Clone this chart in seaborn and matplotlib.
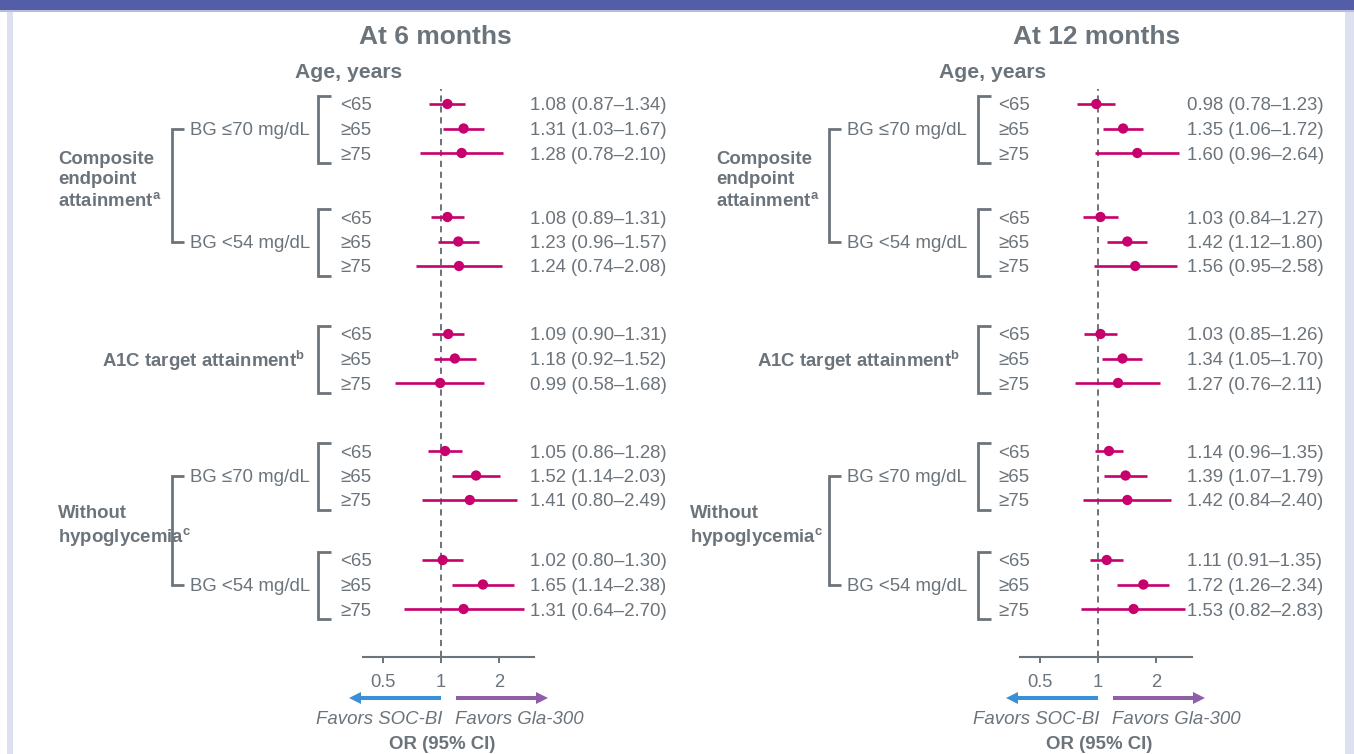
import numpy as np
import pandas as pd
import seaborn as sns
import matplotlib.pyplot as plt
from matplotlib.patches import Rectangle

# data
age_labels = ["<65", "≥65", "≥75"]
subgroups = ["Composite BG ≤70", "Composite BG <54", "A1C target",
             "Without hypo BG ≤70", "Without hypo BG <54"]

or_6 = [1.08, 1.31, 1.28, 1.08, 1.23, 1.24, 1.09, 1.18, 0.99,
        1.05, 1.52, 1.41, 1.02, 1.65, 1.31]
lo_6 = [0.87, 1.03, 0.78, 0.89, 0.96, 0.74, 0.90, 0.92, 0.58,
        0.86, 1.14, 0.80, 0.80, 1.14, 0.64]
hi_6 = [1.34, 1.67, 2.10, 1.31, 1.57, 2.08, 1.31, 1.52, 1.68,
        1.28, 2.03, 2.49, 1.30, 2.38, 2.70]

or_12 = [0.98, 1.35, 1.60, 1.03, 1.42, 1.56, 1.03, 1.34, 1.27,
         1.14, 1.39, 1.42, 1.11, 1.72, 1.53]
lo_12 = [0.78, 1.06, 0.96, 0.84, 1.12, 0.95, 0.85, 1.05, 0.76,
         0.96, 1.07, 0.84, 0.91, 1.26, 0.82]
hi_12 = [1.23, 1.72, 2.64, 1.27, 1.80, 2.58, 1.26, 1.70, 2.11,
         1.35, 1.79, 2.40, 1.35, 2.34, 2.83]

panel_titles = ["At 6 months", "At 12 months"]
x_ticks = [0.5, 1, 2]
tick_labels = ["0.5", "1", "2"]

# colours
GREY = "#6b737b"
MAG = "#c8006e"
BLUE = "#3a90d6"
PURPLE = "#8e5fa8"

sns.set_theme(style="white")
plt.rcParams["font.family"] = ["Liberation Sans", "DejaVu Sans"]
plt.rcParams["mathtext.fontset"] = "custom"
plt.rcParams["mathtext.rm"] = "Liberation Sans"
plt.rcParams["mathtext.bf"] = "Liberation Sans:bold"

W, H = 1354, 754
fig = plt.figure(figsize=(W / 100, H / 100), dpi=100)

# overlay in pixel units for labels / brackets / arrows
ov = fig.add_axes([0, 0, 1, 1])
ov.set_xlim(0, W)
ov.set_ylim(H, 0)
ov.axis("off")
ov.patch.set_alpha(0)

# frame
ov.add_patch(Rectangle((0, 0), W, 10, color="#545ea6", lw=0))
ov.add_patch(Rectangle((0, 10), W, 2, color="#b9bddc", lw=0))
ov.add_patch(Rectangle((7, 12), 6, H, color="#dde0ef", lw=0))
ov.add_patch(Rectangle((1345, 12), 9, H, color="#dde0ef", lw=0))

# layout (pixels)
group_start = [104, 217, 334, 451, 560]
row_step = 24.5
rows_y = [g + row_step * i for g in group_start for i in range(3)]
k = 58.0  # pixels per doubling
spine_y, top_y = 657, 89
FS = 13.4
dy = 2  # text nudge so glyphs sit on the row centre

panels = [
    dict(x1=441, ax_l=363, ax_r=534, title_x=435, age_x=349, lab_x=340,
         val_x=530, inner=318, outer=172, comp_x=58, hypo_x=58, a1c_r=305,
         orv=or_6, lo=lo_6, hi=hi_6),
    dict(x1=1098, ax_l=1020, ax_r=1192, title_x=1097, age_x=993, lab_x=998,
         val_x=1187, inner=978, outer=829, comp_x=716, hypo_x=690, a1c_r=960,
         orv=or_12, lo=lo_12, hi=hi_12),
]

for p, title in zip(panels, panel_titles):
    df = pd.DataFrame({"OR": p["orv"], "lo": p["lo"], "hi": p["hi"], "y": rows_y})

    ax = fig.add_axes([p["ax_l"] / W, (H - spine_y) / H,
                       (p["ax_r"] - p["ax_l"]) / W, (spine_y - top_y) / H])
    ax.set_xscale("log", base=2)
    ax.set_xlim(2 ** ((p["ax_l"] - p["x1"]) / k), 2 ** ((p["ax_r"] - p["x1"]) / k))
    ax.set_ylim(spine_y, top_y)
    ax.patch.set_alpha(0)

    ax.axvline(1, color=GREY, lw=1.4, ls=(0, (3.2, 2.4)), zorder=1)
    ax.hlines(df["y"], df["lo"], df["hi"], color=MAG, lw=1.9, zorder=2, clip_on=False)
    sns.scatterplot(data=df, x="OR", y="y", ax=ax, color=MAG, s=55,
                    edgecolor="none", zorder=3, clip_on=False)

    for s in ["top", "right", "left"]:
        ax.spines[s].set_visible(False)
    ax.spines["bottom"].set_color(GREY)
    ax.spines["bottom"].set_linewidth(1.5)
    ax.set_xticks(x_ticks)
    ax.set_xticklabels(tick_labels)
    ax.minorticks_off()
    ax.tick_params(axis="x", direction="out", length=4.5, width=1.4, color=GREY,
                   labelcolor=GREY, labelsize=13.2, pad=7.5, bottom=True)
    ax.set_yticks([])
    ax.set_xlabel("")
    ax.set_ylabel("")

    # text columns
    for i, y in enumerate(rows_y):
        ov.text(p["lab_x"], y + dy, age_labels[i % 3], color=GREY, fontsize=FS,
                va="center", ha="left")
        ov.text(p["val_x"], y + dy,
                f"{p['orv'][i]:.2f} ({p['lo'][i]:.2f}–{p['hi'][i]:.2f})",
                color=GREY, fontsize=FS, va="center", ha="left")

    # inner brackets
    for g in group_start:
        t, b = g - 8, g + 2 * row_step + 10
        xb = p["inner"]
        ov.plot([xb + 13, xb, xb, xb + 13], [t, t, b, b], color=GREY, lw=2,
                solid_joinstyle="miter", solid_capstyle="butt")

    # outer brackets + BG labels
    for g0, g1 in [(0, 1), (3, 4)]:
        t = group_start[g0] + row_step
        b = group_start[g1] + row_step
        xo = p["outer"]
        ov.plot([xo + 12, xo, xo, xo + 12], [t, t, b, b], color=GREY, lw=2,
                solid_joinstyle="miter", solid_capstyle="butt")
        ov.text(xo + 18, t + dy, "BG ≤70 mg/dL", color=GREY, fontsize=FS, va="center")
        ov.text(xo + 18, b + dy, "BG <54 mg/dL", color=GREY, fontsize=FS, va="center")

    # category labels
    ov.text(p["comp_x"], 181,
            "Composite\nendpoint\nattainment$^{\\mathbf{a}}$", color=GREY,
            fontsize=FS, fontweight="bold", va="center", ha="left", linespacing=1.25)
    ov.text(p["a1c_r"], group_start[2] + row_step + dy,
            "A1C target attainment$^{\\mathbf{b}}$", color=GREY, fontsize=FS,
            fontweight="bold", va="center", ha="right")
    ov.text(p["hypo_x"], 527,
            "Without\nhypoglycemia$^{\\mathbf{c}}$", color=GREY, fontsize=FS,
            fontweight="bold", va="center", ha="left", linespacing=1.25)

    # headers
    ov.text(p["title_x"], 37, title, color=GREY, fontsize=19, fontweight="bold",
            ha="center", va="center")
    ov.text(p["age_x"], 73, "Age, years", color=GREY, fontsize=15.2,
            fontweight="bold", ha="center", va="center")

    # favour arrows
    x1 = p["x1"]
    ov.arrow(x1, 698, -92, 0, width=4, head_width=12, head_length=12,
             length_includes_head=True, color=BLUE, lw=0)
    ov.arrow(x1 + 15, 698, 92, 0, width=4, head_width=12, head_length=12,
             length_includes_head=True, color=PURPLE, lw=0)
    ov.text(x1 + 1, 719, "Favors SOC-BI", color=GREY, fontsize=FS, style="italic",
            ha="right", va="center")
    ov.text(x1 + 14, 719, "Favors Gla-300", color=GREY, fontsize=FS, style="italic",
            ha="left", va="center")
    ov.text(x1 + 1, 753, "OR (95% CI)", color=GREY, fontsize=FS, fontweight="bold",
            ha="center", va="bottom")

fig.savefig("out.png", dpi=100)
